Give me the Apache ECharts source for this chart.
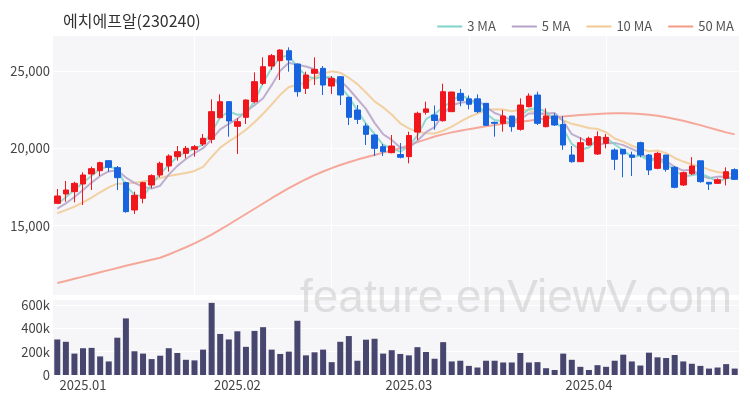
<!DOCTYPE html>
<html><head><meta charset="utf-8">
<script src="https://cdn.jsdelivr.net/npm/echarts@6/dist/echarts.min.js"></script>
<style>html,body{margin:0;padding:0;background:#fff}#c{width:750px;height:400px}</style>
</head><body><div id="c"></div>
<script>
const dates = [
'2024-12-26','2024-12-27','2024-12-30',
'2025-01-02','2025-01-03','2025-01-06','2025-01-07','2025-01-08','2025-01-09','2025-01-10','2025-01-13','2025-01-14','2025-01-15','2025-01-16','2025-01-17','2025-01-20','2025-01-21','2025-01-22','2025-01-23','2025-01-24','2025-01-31',
'2025-02-03','2025-02-04','2025-02-05','2025-02-06','2025-02-07','2025-02-10','2025-02-11','2025-02-12','2025-02-13','2025-02-14','2025-02-17','2025-02-18','2025-02-19','2025-02-20','2025-02-21','2025-02-24','2025-02-25','2025-02-26','2025-02-27','2025-02-28',
'2025-03-03','2025-03-04','2025-03-05','2025-03-06','2025-03-07','2025-03-10','2025-03-11','2025-03-12','2025-03-13','2025-03-14','2025-03-17','2025-03-18','2025-03-19','2025-03-20','2025-03-21','2025-03-24','2025-03-25','2025-03-26','2025-03-27','2025-03-28','2025-03-31',
'2025-04-01','2025-04-02','2025-04-03','2025-04-04','2025-04-07','2025-04-08','2025-04-09','2025-04-10','2025-04-11','2025-04-14','2025-04-15','2025-04-16','2025-04-17','2025-04-18','2025-04-21','2025-04-22','2025-04-23','2025-04-24'
];
const opens = [16440,17044,17195,17691,18338,18554,19200,18748,17778,16010,16764,17627,18273,18855,19459,19675,19933,20278,20580,21982,
23017,21420,22003,23016,24202,25323,25668,26315,25453,23879,24849,25172,24029,24633,23297,22478,21442,20860,20106,19718,
19600,19459,21050,22330,22154,21787,22370,23555,23200,23200,22908,21680,21615,22089,21227,22692,23447,21399,22089,21540,
19566,19135,20213,19631,20321,19890,19933,19566,20364,19566,18704,19566,18769,17626,18350,19190,17800,17734,18057,18620];
const closes = [16915,17303,17734,18273,18683,19071,18769,18100,15902,16958,17778,18230,19028,19502,19782,19998,20106,20645,22370,23016,
21766,21722,23124,24310,25280,25992,26358,25711,23663,24741,25108,24094,24526,23448,22003,21874,20903,19998,19782,20148,
19420,20830,22262,22550,21800,23663,23640,23081,22850,22370,21490,21615,22089,21399,22800,23382,21615,22089,21507,20213,
19135,20364,20644,20752,20709,19286,19631,19416,19566,18596,19674,18639,17475,18423,18855,17841,17690,17970,18488,17992];
const lows = [16440,16548,16505,16333,17303,18208,18489,17303,15837,15750,16440,17411,18122,18489,19200,19351,19459,20149,20321,21939,
20753,19632,21572,22909,24094,25065,24418,24957,23340,23512,24094,23448,23512,22801,21507,21572,20213,19502,19502,19675,
19351,19028,20537,22180,21200,21723,22370,22720,22520,22280,21442,20752,21076,21076,21141,22649,21507,21356,21442,19900,
19070,19135,20148,19566,19998,18596,18122,18208,19416,18272,18639,18488,17410,17561,18272,17777,17302,17691,17600,17949];
const highs = [17368,17885,17842,18446,18812,19136,19200,18855,17842,17195,17842,18316,19136,19610,20149,20149,20214,20925,23167,23490,
23060,21939,23167,24914,25884,26099,26401,26531,25496,24957,25884,25323,24676,24676,23340,22801,21615,20925,20278,20860,
20340,21076,22370,23016,22770,24180,23663,23840,23420,23490,22908,21722,22477,22089,23231,23555,23663,22584,22261,22089,
20148,20709,20752,21100,20925,19998,19933,19782,20429,19631,19782,19566,18855,18488,19430,19190,17800,18057,18768,18704];
const volumes = [304000,284000,183000,229000,232000,159000,116000,319000,484000,203000,
183000,136000,165000,229000,188000,130000,125000,217000,617000,351000,
304000,374000,241000,377000,409000,217000,180000,200000,464000,168000,
194000,217000,110000,284000,333000,122000,302000,310000,183000,212000,
180000,168000,238000,197000,139000,281000,116000,122000,78000,64000,
122000,122000,107000,107000,188000,107000,110000,58000,43000,183000,
130000,70000,43000,84000,70000,122000,174000,116000,81000,191000,
151000,145000,171000,116000,96000,78000,55000,64000,93000,55000];
// closes of the nine sessions before the first visible one (estimated from the MA lines' starting levels)
const priorCloses = [15300,15450,15600,15550,15600,15600,15700,16000,16285];
const ma50 = [11290,11420,11560,11700,11840,11980,12120,12260,12400,12530,
12660,12790,12920,13130,13360,13600,13850,14120,14420,14740,
15070,15410,15750,16090,16430,16770,17100,17420,17720,18000,
18260,18500,18720,18920,19100,19270,19420,19570,19720,19860,
20000,20200,20400,20580,20760,20900,21030,21140,21240,21330,
21420,21500,21580,21650,21720,21790,21860,21930,22000,22050,
22100,22150,22190,22220,22250,22260,22260,22250,22220,22170,
22100,22010,21900,21780,21640,21500,21340,21180,21030,20900];
const yTicksPrice = [15000, 20000, 25000];
const yTicksVolume = ['0', '200k', '400k', '600k'];

function movingAvg(n) {
  const all = priorCloses.concat(closes);
  const off = priorCloses.length;
  return closes.map((_, i) => {
    let s = 0;
    for (let k = 0; k < n; k++) s += all[off + i - k];
    return Math.round(s / n);
  });
}
const candle = dates.map((d, i) => [opens[i], closes[i], lows[i], highs[i]]);
function isMonthStart(i) { return i > 0 && dates[i].slice(0, 7) !== dates[i - 1].slice(0, 7); }
function comma(v) { return String(Math.round(v)).replace(/\B(?=(\d{3})+(?!\d))/g, ','); }

const font = "'Noto Sans CJK KR', 'Noto Sans', sans-serif";
const chart = echarts.init(document.getElementById('c'), null, {renderer: 'canvas'});
chart.setOption({
  animation: false,
  textStyle: {fontFamily: font},
  title: {text: '에치에프알(230240)', left: 58, top: 8,
    textStyle: {fontSize: 16, fontWeight: 'normal', color: '#333', fontFamily: font}},
  legend: {top: 15, right: 11, itemWidth: 25, itemHeight: 2, itemGap: 16, icon: 'rect',
    textStyle: {color: '#555', fontSize: 13, fontFamily: font},
    data: ['3 MA', '5 MA', '10 MA', '50 MA']},
  grid: [
    {left: 53, right: 11, top: 35, height: 260, show: true, backgroundColor: '#f6f6f8', borderWidth: 0},
    {left: 53, right: 11, top: 299, height: 76, show: true, backgroundColor: '#f6f6f8', borderWidth: 0}
  ],
  xAxis: [
    {type: 'category', gridIndex: 0, data: dates, boundaryGap: true,
     axisLine: {show: false}, axisTick: {show: false}, axisLabel: {show: false},
     splitLine: {show: true, alignWithLabel: true, interval: (i) => i > 0 && i % 16 === 0,
       lineStyle: {color: '#ffffff', width: 1}}},
    {type: 'category', gridIndex: 1, data: dates, boundaryGap: true,
     axisLine: {show: false}, axisTick: {show: false}, splitLine: {show: false},
     axisLabel: {interval: (i) => isMonthStart(i), formatter: (v) => v.slice(0, 4) + '.' + v.slice(5, 7),
       color: '#444', fontSize: 13, margin: 4, fontFamily: font}}
  ],
  yAxis: [
    {type: 'value', gridIndex: 0, min: 10510, max: 27330, splitNumber: 3, scale: true,
     axisLine: {show: false}, axisTick: {show: false},
     axisLabel: {color: '#444', fontSize: 13, margin: 3, showMinLabel: false, showMaxLabel: false,
       fontFamily: font,
       formatter: (v) => yTicksPrice.indexOf(v) >= 0 ? comma(v) : ''},
     splitLine: {lineStyle: {color: '#ffffff', width: 1}}},
    {type: 'value', gridIndex: 1, min: 0, max: 650000, interval: 200000,
     axisLine: {show: false}, axisTick: {show: false},
     axisLabel: {color: '#444', fontSize: 13, margin: 3, showMaxLabel: false, fontFamily: font,
       formatter: (v) => { const t = v === 0 ? '0' : (v / 1000) + 'k'; return yTicksVolume.indexOf(t) >= 0 ? t : ''; }},
     splitLine: {lineStyle: {color: '#ffffff', width: 1}}}
  ],
  series: [
    {name: '50 MA', type: 'line', data: ma50, symbol: 'none', xAxisIndex: 0, yAxisIndex: 0,
     color: '#f49a88', lineStyle: {width: 2, opacity: 0.85}, z: 1},
    {name: '10 MA', type: 'line', data: movingAvg(10), symbol: 'none', xAxisIndex: 0, yAxisIndex: 0,
     color: '#f1c992', lineStyle: {width: 2, opacity: 0.85}, z: 1},
    {name: '5 MA', type: 'line', data: movingAvg(5), symbol: 'none', xAxisIndex: 0, yAxisIndex: 0,
     color: '#b5a2c8', lineStyle: {width: 2, opacity: 0.85}, z: 1},
    {name: '3 MA', type: 'line', data: movingAvg(3), symbol: 'none', xAxisIndex: 0, yAxisIndex: 0,
     color: '#7fd5c9', lineStyle: {width: 2, opacity: 0.85}, z: 1},
    {name: 'price', type: 'candlestick', data: candle, xAxisIndex: 0, yAxisIndex: 0, barWidth: '70%', z: 3,
     itemStyle: {color: '#f0161c', color0: '#1764de', borderColor: '#f0161c', borderColor0: '#1764de', borderWidth: 1}},
    {name: 'volume', type: 'bar', data: volumes, xAxisIndex: 1, yAxisIndex: 1, barWidth: '70%',
     itemStyle: {color: '#47466f'}}
  ],
  graphic: [{type: 'text', silent: true, z: 100, left: 300, top: 276,
    style: {text: 'feature.enViewV.com', font: "46px 'Liberation Sans', Arial, sans-serif",
      fill: 'rgba(190,190,190,0.45)'}}]
});
</script></body></html>
